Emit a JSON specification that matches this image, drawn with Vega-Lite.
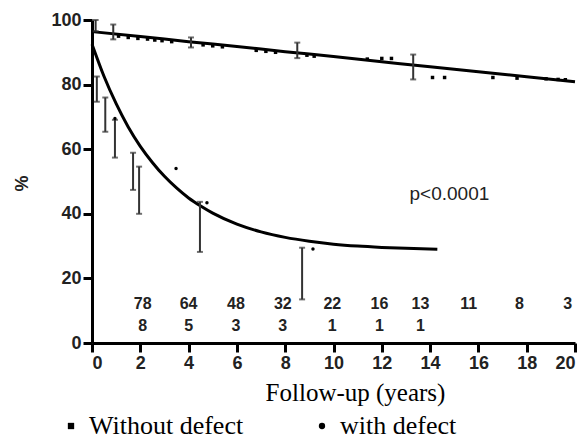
{
  "$schema": "https://vega.github.io/schema/vega-lite/v6.json",
  "width": 483,
  "height": 323,
  "autosize": "none",
  "padding": {"left": 92, "top": 20, "right": 12, "bottom": 96},
  "background": "white",
  "config": {
    "view": {"stroke": null},
    "font": "Liberation Sans",
    "axis": {
      "grid": false,
      "domainColor": "black",
      "domainWidth": 3,
      "tickColor": "black",
      "tickWidth": 3,
      "tickSize": 9,
      "labelFont": "Liberation Sans",
      "labelFontSize": 18,
      "labelFontWeight": "bold",
      "labelColor": "#222",
      "labelPadding": 2
    }
  },
  "datasets": {
    "fit": [
      {"x": 0, "y": 96.4, "g": "without"}, {"x": 2, "y": 94.9, "g": "without"}, {"x": 4, "y": 93.3, "g": "without"},
      {"x": 6, "y": 91.8, "g": "without"}, {"x": 8, "y": 90.2, "g": "without"}, {"x": 10, "y": 88.7, "g": "without"},
      {"x": 12, "y": 87.1, "g": "without"}, {"x": 14, "y": 85.5, "g": "without"}, {"x": 16, "y": 84.0, "g": "without"},
      {"x": 18, "y": 82.4, "g": "without"}, {"x": 20, "y": 80.9, "g": "without"},
      {"x": 0, "y": 92.5, "g": "with"}, {"x": 0.5, "y": 82.5, "g": "with"}, {"x": 1, "y": 74.1, "g": "with"},
      {"x": 1.5, "y": 66.9, "g": "with"}, {"x": 2, "y": 60.9, "g": "with"}, {"x": 2.5, "y": 55.9, "g": "with"},
      {"x": 3, "y": 51.6, "g": "with"}, {"x": 3.5, "y": 48.0, "g": "with"}, {"x": 4, "y": 44.9, "g": "with"},
      {"x": 4.5, "y": 42.4, "g": "with"}, {"x": 5, "y": 40.2, "g": "with"}, {"x": 6, "y": 36.8, "g": "with"},
      {"x": 7, "y": 34.4, "g": "with"}, {"x": 8, "y": 32.7, "g": "with"}, {"x": 9, "y": 31.5, "g": "with"},
      {"x": 10, "y": 30.6, "g": "with"}, {"x": 11, "y": 30.0, "g": "with"}, {"x": 12, "y": 29.6, "g": "with"},
      {"x": 13, "y": 29.3, "g": "with"}, {"x": 14.3, "y": 29.0, "g": "with"}
    ],
    "bars": [
      {"x": 0.15, "lo": 96.5, "hi": 100},
      {"x": 0.88, "lo": 94, "hi": 98.6},
      {"x": 4.1, "lo": 91.5, "hi": 94.6},
      {"x": 8.5, "lo": 88.2, "hi": 93},
      {"x": 13.3, "lo": 81.6, "hi": 89.3},
      {"x": 0.2, "lo": 74.7, "hi": 82.5},
      {"x": 0.55, "lo": 65.4, "hi": 76},
      {"x": 0.95, "lo": 57.4, "hi": 69.1},
      {"x": 1.7, "lo": 47.4, "hi": 58.9},
      {"x": 1.95, "lo": 40, "hi": 54.6},
      {"x": 4.47, "lo": 28.2, "hi": 43.7},
      {"x": 8.7, "lo": 13.5, "hi": 29.5}
    ],
    "cens": [
      {"x": 1.1, "y": 95.0, "g": "Without defect"}, {"x": 1.5, "y": 94.6, "g": "Without defect"},
      {"x": 1.9, "y": 94.3, "g": "Without defect"}, {"x": 2.3, "y": 94.1, "g": "Without defect"},
      {"x": 2.6, "y": 93.8, "g": "Without defect"}, {"x": 2.9, "y": 93.6, "g": "Without defect"},
      {"x": 3.3, "y": 93.3, "g": "Without defect"}, {"x": 4.6, "y": 92.3, "g": "Without defect"},
      {"x": 5.0, "y": 92.0, "g": "Without defect"}, {"x": 5.4, "y": 91.7, "g": "Without defect"},
      {"x": 6.8, "y": 90.6, "g": "Without defect"}, {"x": 7.2, "y": 90.3, "g": "Without defect"},
      {"x": 7.6, "y": 90.0, "g": "Without defect"}, {"x": 8.9, "y": 89.1, "g": "Without defect"},
      {"x": 9.2, "y": 88.8, "g": "Without defect"}, {"x": 11.4, "y": 87.9, "g": "Without defect"},
      {"x": 12.0, "y": 88.1, "g": "Without defect"}, {"x": 12.4, "y": 88.1, "g": "Without defect"},
      {"x": 14.1, "y": 82.2, "g": "Without defect"}, {"x": 14.6, "y": 82.2, "g": "Without defect"},
      {"x": 16.6, "y": 82.2, "g": "Without defect"}, {"x": 17.6, "y": 82.0, "g": "Without defect"},
      {"x": 18.8, "y": 81.8, "g": "Without defect"}, {"x": 19.3, "y": 81.6, "g": "Without defect"},
      {"x": 19.6, "y": 81.5, "g": "Without defect"},
      {"x": 0.95, "y": 69.5, "g": "with defect"}, {"x": 3.48, "y": 54.0, "g": "with defect"},
      {"x": 4.76, "y": 43.4, "g": "with defect"}, {"x": 9.15, "y": 29.1, "g": "with defect"}
    ],
    "risk": [
      {"x": 2.1, "y": 12.1, "label": "78"}, {"x": 4.0, "y": 12.1, "label": "64"},
      {"x": 5.96, "y": 12.1, "label": "48"}, {"x": 7.9, "y": 12.1, "label": "32"},
      {"x": 9.95, "y": 12.1, "label": "22"}, {"x": 11.9, "y": 12.1, "label": "16"},
      {"x": 13.6, "y": 12.1, "label": "13"}, {"x": 15.6, "y": 12.1, "label": "11"},
      {"x": 17.7, "y": 12.1, "label": "8"}, {"x": 19.7, "y": 12.1, "label": "3"},
      {"x": 2.1, "y": 5.3, "label": "8"}, {"x": 4.0, "y": 5.3, "label": "5"},
      {"x": 5.96, "y": 5.3, "label": "3"}, {"x": 7.9, "y": 5.3, "label": "3"},
      {"x": 9.95, "y": 5.3, "label": "1"}, {"x": 11.9, "y": 5.3, "label": "1"},
      {"x": 13.6, "y": 5.3, "label": "1"}
    ],
    "ptext": [{"x": 14.8, "y": 46, "label": "p<0.0001"}]
  },
  "layer": [
    {
      "data": {"name": "fit"},
      "mark": {"type": "line", "color": "black", "strokeWidth": 3, "interpolate": "monotone"},
      "encoding": {
        "x": {
          "field": "x", "type": "quantitative",
          "scale": {"domain": [0, 20], "nice": false},
          "axis": {
            "values": [0, 2, 4, 6, 8, 10, 12, 14, 16, 18, 20],
            "title": "Follow-up (years)",
            "titleFont": "Liberation Serif",
            "titleFontSize": 25,
            "titleFontWeight": "normal",
            "titleColor": "black",
            "titleX": 263,
            "titleY": 57,
            "titleBaseline": "alphabetic"
          }
        },
        "y": {
          "field": "y", "type": "quantitative",
          "scale": {"domain": [0, 100], "nice": false},
          "axis": {
            "values": [0, 20, 40, 60, 80, 100],
            "title": "%",
            "titleFont": "Liberation Sans",
            "titleFontSize": 18,
            "titleFontWeight": "bold",
            "titleColor": "#222",
            "titleAngle": -90,
            "titleX": -70,
            "titleY": 163,
            "titleBaseline": "middle",
            "titleAlign": "center"
          }
        },
        "detail": {"field": "g"}
      }
    },
    {
      "data": {"name": "bars"},
      "mark": {"type": "rule", "color": "#333", "strokeWidth": 2},
      "encoding": {
        "x": {"field": "x", "type": "quantitative"},
        "y": {"field": "lo", "type": "quantitative"},
        "y2": {"field": "hi"}
      }
    },
    {
      "data": {"name": "bars"},
      "mark": {"type": "tick", "orient": "horizontal", "color": "#333", "size": 6, "thickness": 2},
      "encoding": {
        "x": {"field": "x", "type": "quantitative"},
        "y": {"field": "lo", "type": "quantitative"}
      }
    },
    {
      "data": {"name": "bars"},
      "mark": {"type": "tick", "orient": "horizontal", "color": "#333", "size": 6, "thickness": 2},
      "encoding": {
        "x": {"field": "x", "type": "quantitative"},
        "y": {"field": "hi", "type": "quantitative"}
      }
    },
    {
      "data": {"name": "cens"},
      "mark": {"type": "point", "filled": true, "color": "black", "size": 12, "opacity": 1},
      "encoding": {
        "x": {"field": "x", "type": "quantitative"},
        "y": {"field": "y", "type": "quantitative"},
        "shape": {
          "field": "g", "type": "nominal",
          "scale": {"domain": ["Without defect", "with defect"], "range": ["square", "circle"]},
          "legend": {
            "title": null,
            "orient": "none",
            "direction": "horizontal",
            "legendX": -34,
            "legendY": 393,
            "labelFont": "Liberation Serif",
            "labelFontSize": 26,
            "labelColor": "black",
            "labelOffset": 5,
            "symbolSize": 40,
            "symbolFillColor": "black",
            "symbolStrokeWidth": 0,
            "columnPadding": 65,
            "labelLimit": 300
          }
        }
      }
    },
    {
      "data": {"name": "risk"},
      "mark": {"type": "text", "font": "Liberation Sans", "fontSize": 16, "fontWeight": "bold", "color": "#222", "baseline": "middle", "align": "center"},
      "encoding": {
        "x": {"field": "x", "type": "quantitative"},
        "y": {"field": "y", "type": "quantitative"},
        "text": {"field": "label"}
      }
    },
    {
      "data": {"name": "ptext"},
      "mark": {"type": "text", "font": "Liberation Sans", "fontSize": 19, "color": "#222", "baseline": "middle", "align": "center"},
      "encoding": {
        "x": {"field": "x", "type": "quantitative"},
        "y": {"field": "y", "type": "quantitative"},
        "text": {"field": "label"}
      }
    }
  ]
}
